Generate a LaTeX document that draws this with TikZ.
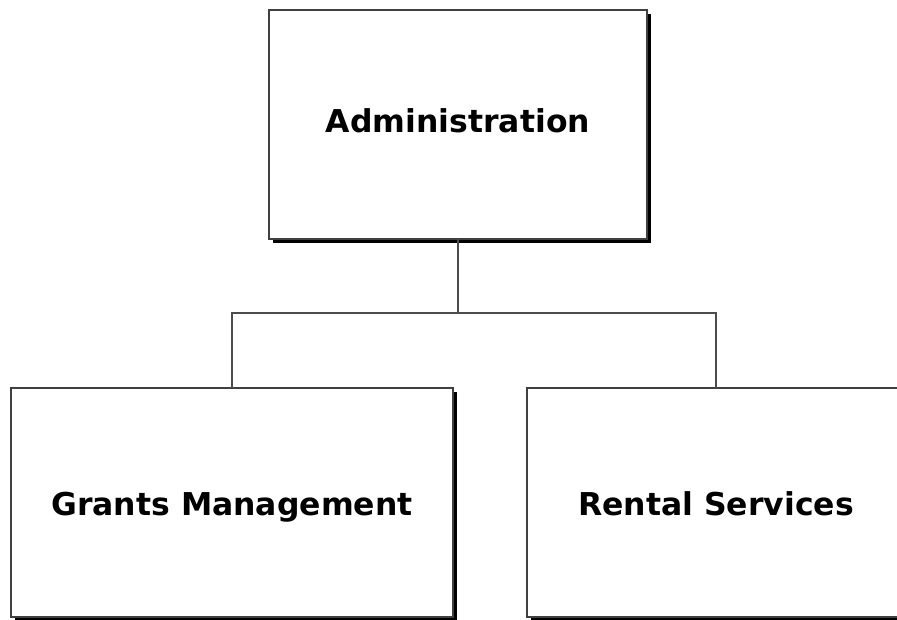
\documentclass[tikz,border=0pt]{standalone}
\usepackage{fontspec}
\setmainfont{DejaVu Sans}
\usetikzlibrary{shadows}
\begin{document}
\begin{tikzpicture}[x=0.75pt,y=-0.75pt,
  orgbox/.style={draw=black!75, line width=0.9pt, fill=white, inner sep=0pt, outer sep=0pt,
    minimum height=171.75pt, font=\fontsize{23.6pt}{28pt}\selectfont\bfseries,
    drop shadow={shadow xshift=3pt, shadow yshift=-3pt, fill=black, opacity=1}},
  link/.style={draw=black!70, line width=1.1pt}]
\useasboundingbox (0,0) rectangle (897,619);
\node[orgbox, minimum width=283.5pt, text height=17.2pt, text depth=5.5pt] (admin) at (458,124.5) {Administration};
\node[orgbox, minimum width=331.5pt, text height=19.8pt, text depth=0pt] (grants) at (232,502.5) {Grants Management};
\node[orgbox, minimum width=283.5pt, text height=19.8pt, text depth=0pt] (rental) at (716,502.5) {Rental Services};
\coordinate (bus) at (458,313);
\draw[link] (admin.south) -- (bus);
\draw[link] (grants.north) |- (bus) -| (rental.north);
\end{tikzpicture}
\end{document}
